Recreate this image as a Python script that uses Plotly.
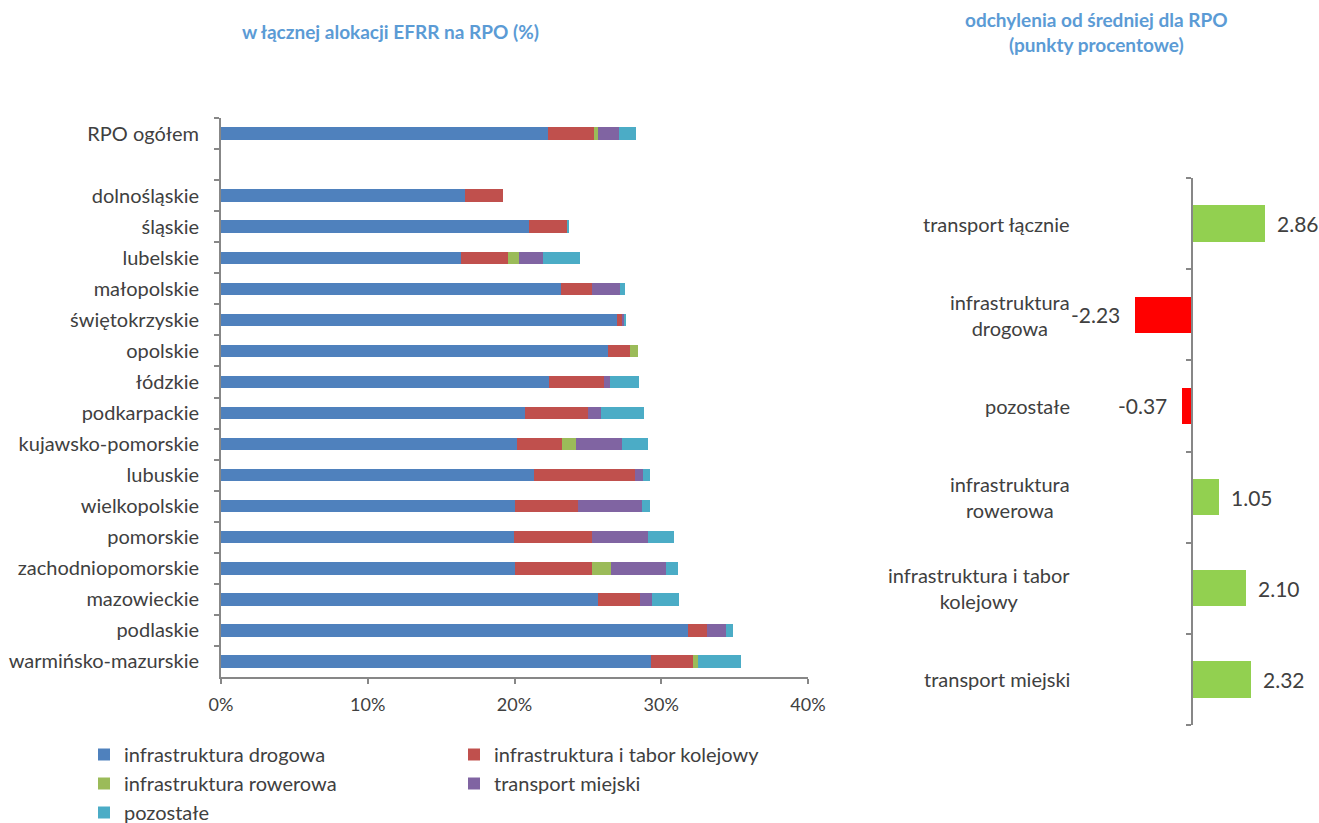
import plotly.graph_objects as go

# Udział kategorii transportowych w alokacji EFRR na RPO (%)
regions = ["RPO ogółem", " ", "dolnośląskie", "śląskie", "lubelskie", "małopolskie",
           "świętokrzyskie", "opolskie", "łódzkie", "podkarpackie", "kujawsko-pomorskie",
           "lubuskie", "wielkopolskie", "pomorskie", "zachodniopomorskie", "mazowieckie",
           "podlaskie", "warmińsko-mazurskie"]

drogowa =   [22.28, 0, 16.61, 20.99, 16.35, 23.17, 27.01, 26.37, 22.37, 20.71, 20.19, 21.33, 20.03, 19.95, 20.05, 25.66, 31.79, 29.31]
kolejowa =  [3.14, 0, 2.61, 2.61, 3.21, 2.09, 0.34, 1.50, 3.75, 4.28, 3.05, 6.90, 4.28, 5.31, 5.24, 2.92, 1.34, 2.85]
rowerowa =  [0.25, 0, 0.00, 0.00, 0.72, 0.00, 0.00, 0.53, 0.00, 0.00, 0.95, 0.00, 0.00, 0.00, 1.30, 0.00, 0.00, 0.34]
miejski =   [1.43, 0, 0.00, 0.00, 1.66, 1.91, 0.14, 0.00, 0.37, 0.88, 3.16, 0.53, 4.36, 3.84, 3.75, 0.80, 1.29, 0.00]
pozostale = [1.20, 0, 0.00, 0.07, 2.52, 0.34, 0.09, 0.00, 1.99, 2.95, 1.73, 0.49, 0.58, 1.77, 0.83, 1.80, 0.44, 2.96]

series_names = ["infrastruktura drogowa", "infrastruktura i tabor kolejowy",
                "infrastruktura rowerowa", "transport miejski", "pozostałe"]
series_values = [drogowa, kolejowa, rowerowa, miejski, pozostale]
series_colors = ["#4F81BD", "#C0504D", "#9BBB59", "#8064A2", "#4BACC6"]
series_legend = ["legend", "legend2", "legend", "legend2", "legend"]

x_ticks = [0, 10, 20, 30, 40]
x_tick_text = ["0%", "10%", "20%", "30%", "40%"]

# Odchylenia od średniej dla RPO (punkty procentowe)
dev_labels = ["transport łącznie", "infrastruktura<br>drogowa", "pozostałe",
              "infrastruktura<br>rowerowa", "infrastruktura i tabor<br>kolejowy", "transport miejski"]
dev_values = [2.86, -2.23, -0.37, 1.05, 2.10, 2.32]

W, H = 1319, 823
FONT = "Lato, 'Open Sans', sans-serif"
TXT = "#404040"
AXIS = "#878787"
TITLE = "#5B9BD5"


def px_x(p):
    return p / W


def px_y(p):
    return 1 - p / H


fig = go.Figure()

for name, vals, col, lg in zip(series_names, series_values, series_colors, series_legend):
    fig.add_trace(go.Bar(
        y=regions, x=vals, name=name, orientation="h",
        marker=dict(color=col, line=dict(width=0)),
        width=0.4, legend=lg, legendgroup=name,
        xaxis="x", yaxis="y", hoverinfo="x+y+name",
    ))

dev_colors = ["#92D050" if v >= 0 else "#FF0000" for v in dev_values]
fig.add_trace(go.Bar(
    y=list(range(len(dev_values))), x=dev_values, orientation="h",
    marker=dict(color=dev_colors, line=dict(width=0)),
    width=0.4, showlegend=False, xaxis="x2", yaxis="y2",
))

annotations = []
for i, (lab, v) in enumerate(zip(dev_labels, dev_values)):
    annotations.append(dict(
        xref="paper", yref="y2", x=px_x(1072), y=i, text=lab, showarrow=False,
        xanchor="right", yanchor="middle", align="center",
        font=dict(family=FONT, size=20, color=TXT),
    ))
    annotations.append(dict(
        xref="x2", yref="y2", x=v, y=i, text=f"{v:.2f}", showarrow=False,
        xanchor="left" if v >= 0 else "right", yanchor="middle",
        xshift=10 if v >= 0 else -13,
        font=dict(family=FONT, size=21, color=TXT),
    ))

annotations.append(dict(
    xref="paper", yref="paper", x=px_x(390), y=px_y(31),
    text="<b>w łącznej alokacji EFRR na RPO (%)</b>", showarrow=False,
    xanchor="center", yanchor="middle",
    font=dict(family=FONT, size=19, color=TITLE),
))
annotations.append(dict(
    xref="paper", yref="paper", x=px_x(1096), y=px_y(32),
    text="<b>odchylenia od średniej dla RPO<br>(punkty procentowe)</b>", showarrow=False,
    xanchor="center", yanchor="middle", align="center",
    font=dict(family=FONT, size=19, color=TITLE),
))

fig.update_layout(
    width=W, height=H,
    margin=dict(l=0, r=0, t=0, b=0, autoexpand=False),
    paper_bgcolor="white", plot_bgcolor="white",
    barmode="stack", bargap=0.6,
    font=dict(family=FONT, size=20, color=TXT),
    xaxis=dict(
        domain=[px_x(221), px_x(808)], range=[0, 40],
        tickmode="array", tickvals=x_ticks, ticktext=x_tick_text,
        showgrid=False, zeroline=False,
        showline=True, linecolor=AXIS, linewidth=2,
        ticks="outside", ticklen=5, tickwidth=2, tickcolor=AXIS,
        ticklabelstandoff=5,
        tickfont=dict(family=FONT, size=18, color=TXT),
        anchor="y", automargin=False,
    ),
    yaxis=dict(
        domain=[px_y(677), px_y(118)], type="category",
        categoryorder="array", categoryarray=regions, autorange="reversed",
        showgrid=False, zeroline=False,
        showline=True, linecolor=AXIS, linewidth=2,
        ticks="outside", ticklen=5, tickwidth=2, tickcolor=AXIS,
        tickson="boundaries", ticklabelstandoff=16,
        tickfont=dict(family=FONT, size=20, color=TXT),
        anchor="x", automargin=False,
    ),
    xaxis2=dict(
        domain=[px_x(1115), px_x(1307)], range=[-3, 4.5],
        visible=False, anchor="y2", automargin=False,
    ),
    yaxis2=dict(
        domain=[px_y(725), px_y(178)], range=[len(dev_values) - 0.5, -0.5],
        anchor="free", position=px_x(1192),
        showgrid=False, zeroline=False, showticklabels=False,
        showline=True, linecolor=AXIS, linewidth=2,
        ticks="outside", ticklen=5, tickwidth=2, tickcolor=AXIS,
        tickvals=[i - 0.5 for i in range(len(dev_values) + 1)],
        automargin=False,
    ),
    legend=dict(
        x=px_x(84), y=px_y(735), xanchor="left", yanchor="top",
        orientation="v", traceorder="grouped", tracegroupgap=0,
        font=dict(family=FONT, size=20, color=TXT),
        itemwidth=30, bgcolor="rgba(0,0,0,0)",
    ),
    legend2=dict(
        x=px_x(454), y=px_y(735), xanchor="left", yanchor="top",
        orientation="v", traceorder="grouped", tracegroupgap=0,
        font=dict(family=FONT, size=20, color=TXT),
        itemwidth=30, bgcolor="rgba(0,0,0,0)",
    ),
    annotations=annotations,
)

fig.write_html("out.html")
